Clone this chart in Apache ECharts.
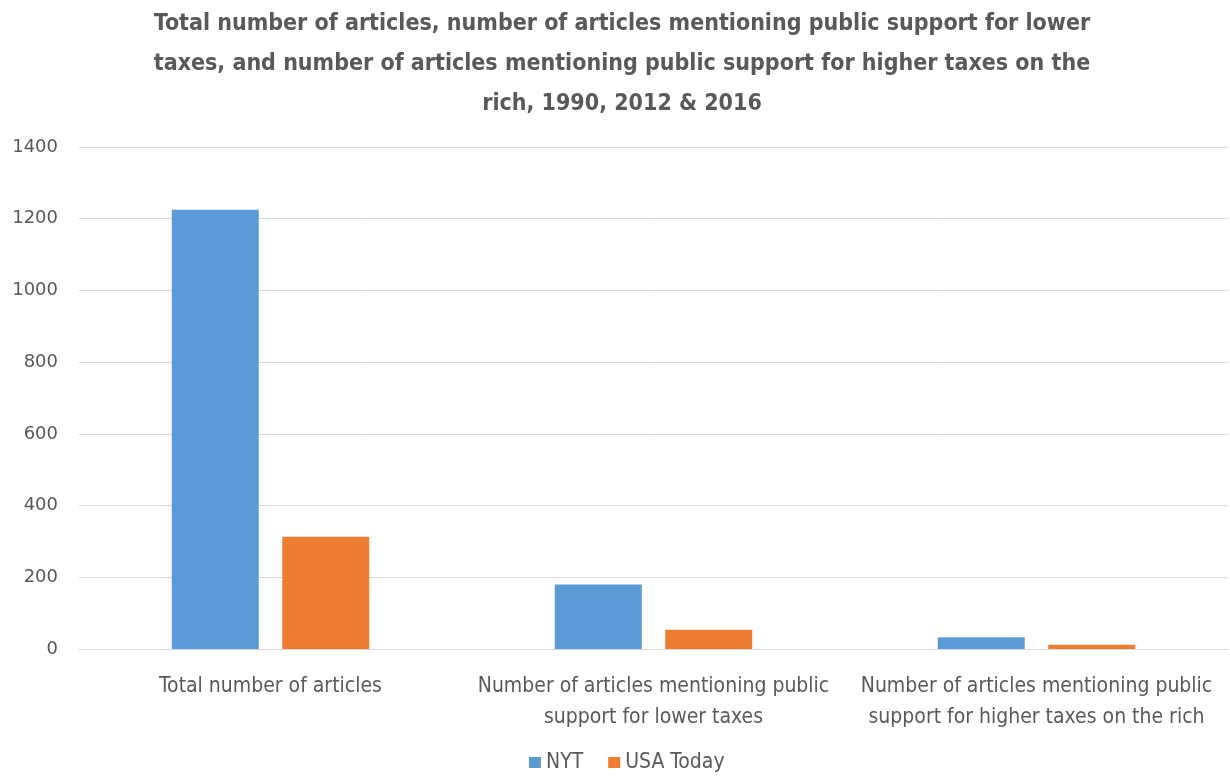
<!DOCTYPE html>
<html>
<head>
<meta charset="utf-8">
<script src="https://cdn.jsdelivr.net/npm/echarts@6/dist/echarts.min.js"></script>
<style>
  html, body { margin: 0; padding: 0; background: #ffffff; }
  #chart { width: 1230px; height: 779px; }
</style>
</head>
<body>
<div id="chart"></div>
<script>
// Article counts by newspaper, 1990, 2012 & 2016
const categories = [
  'Total number of articles',
  'Number of articles mentioning public\nsupport for lower taxes',
  'Number of articles mentioning public\nsupport for higher taxes on the rich'
];
const nytValues = [1225, 180, 33];
const usaTodayValues = [313, 54, 12];
const seriesNames = ['NYT', 'USA Today'];
const yTicks = { min: 0, max: 1400, interval: 200 };

const NARROW = "'Liberation Sans Narrow', 'DejaVu Sans Condensed', sans-serif";
const WIDE = "'DejaVu Sans', 'Liberation Sans', sans-serif";
const TEXT = '#595959';

const chart = echarts.init(document.getElementById('chart'), null, { renderer: 'canvas' });
chart.setOption({
  animation: false,
  backgroundColor: '#ffffff',
  title: {
    text: 'Total number of articles, number of articles mentioning public support for lower\ntaxes, and number of articles mentioning public support for higher taxes on the\nrich, 1990, 2012 & 2016',
    left: 622,
    top: 4,
    padding: 0,
    textAlign: 'center',
    textStyle: {
      fontFamily: NARROW,
      fontSize: 23,
      fontWeight: 'bold',
      color: TEXT,
      lineHeight: 40
    }
  },
  legend: {
    data: seriesNames,
    bottom: 1,
    left: 524,
    icon: 'rect',
    itemWidth: 12,
    itemHeight: 11,
    itemGap: 25,
    textStyle: { fontFamily: NARROW, fontSize: 21, color: TEXT }
  },
  grid: { left: 79, right: 2, top: 147, bottom: 130, containLabel: false },
  xAxis: {
    type: 'category',
    data: categories,
    axisLine: { lineStyle: { color: '#D9D9D9', width: 1 } },
    axisTick: { show: false },
    axisLabel: {
      fontFamily: NARROW,
      fontSize: 21,
      color: TEXT,
      lineHeight: 31,
      margin: 22,
      interval: 0
    }
  },
  yAxis: {
    type: 'value',
    min: yTicks.min,
    max: yTicks.max,
    interval: yTicks.interval,
    axisLine: { show: false },
    axisTick: { show: false },
    splitLine: { lineStyle: { color: '#D9D9D9', width: 1 } },
    axisLabel: {
      fontFamily: WIDE,
      fontSize: 18,
      color: TEXT,
      margin: 21,
      formatter: function (v) { return String(v); }
    }
  },
  series: [
    {
      name: seriesNames[0],
      type: 'bar',
      data: nytValues,
      barWidth: 87,
      barGap: '27%',
      itemStyle: { color: '#5B9BD5' }
    },
    {
      name: seriesNames[1],
      type: 'bar',
      data: usaTodayValues,
      barWidth: 87,
      barGap: '27%',
      itemStyle: { color: '#ED7D31' }
    }
  ]
});
</script>
</body>
</html>
